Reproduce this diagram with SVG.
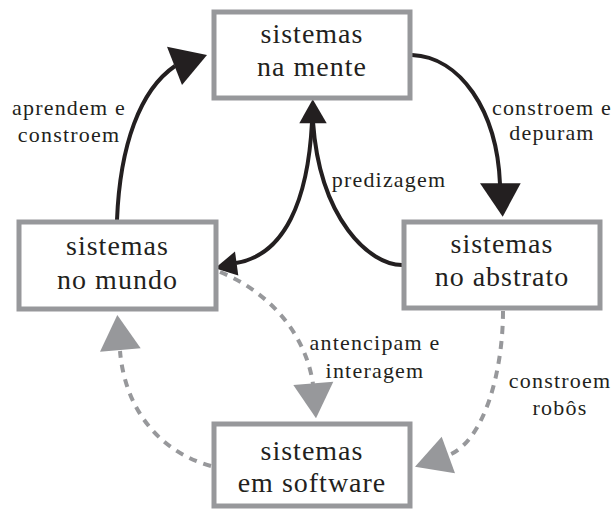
<svg xmlns="http://www.w3.org/2000/svg" width="612" height="510" viewBox="0 0 612 510" font-family="Liberation Serif, DejaVu Serif, serif">
  <style>
    .box { fill: #ffffff; stroke: #97989b; stroke-width: 5; }
    .node-text { font-size: 28px; letter-spacing: 1px; fill: #231f20; text-anchor: middle; }
    .label { font-size: 22px; letter-spacing: 1.2px; fill: #231f20; text-anchor: middle; }
    .solid { fill: none; stroke: #231f20; stroke-width: 4; }
    .dashed { fill: none; stroke: #97989b; stroke-width: 4; stroke-dasharray: 8 7; }
    .head-dark { fill: #231f20; }
    .head-gray { fill: #97989b; }
  </style>

  <g id="connectors">
    <!-- aprendem e constroem: mundo -> mente -->
    <path class="solid" d="M117,220 C120,145 140,90 175,66"/>
    <polygon class="head-dark" points="207,55 167,46.7 182,85"/>

    <!-- constroem e depuram: mente -> abstrato -->
    <path class="solid" d="M412,55 C460,57 497,110 500,184"/>
    <polygon class="head-dark" points="502.7,216.7 480,183.3 520.7,183.3"/>

    <!-- predizagem: abstrato -> mente -> mundo -->
    <path class="solid" d="M402,265 C370,265 320,220 313,122"/>
    <path class="solid" d="M312,122 C308,200 285,255 236,263"/>
    <polygon class="head-dark" points="312.7,99.3 299.3,123.3 326.7,123.3"/>
    <polygon class="head-dark" points="215,268.3 235,251.5 238.3,275.5"/>

    <!-- antencipam e interagem: mundo -> software -->
    <path class="dashed" d="M220,272 C265,290 305,330 313,384"/>
    <polygon class="head-gray" points="316,418.3 293.3,385 333.3,381.7"/>

    <!-- constroem robôs: abstrato -> software -->
    <path class="dashed" d="M503,311 C503,370 485,440 449,455"/>
    <polygon class="head-gray" points="415,466.7 441.7,436.7 455,473.3"/>

    <!-- software -> mundo -->
    <path class="dashed" d="M211,466 C160,452 125,410 120,351"/>
    <polygon class="head-gray" points="117.3,315 100,351.7 140.7,348.3"/>
  </g>

  <g id="labels">
    <text class="label" x="69" y="115">aprendem e</text>
    <text class="label" x="69" y="141.7">constroem</text>
    <text class="label" x="552" y="115">constroem e</text>
    <text class="label" x="552" y="140">depuram</text>
    <text class="label" x="389" y="186.7">predizagem</text>
    <text class="label" x="375" y="350">antencipam e</text>
    <text class="label" x="375" y="377.7">interagem</text>
    <text class="label" x="560" y="388.3">constroem</text>
    <text class="label" x="560" y="415">robôs</text>
  </g>

  <g id="node-mente">
    <rect class="box" x="214" y="12" width="196" height="86"/>
    <text class="node-text" x="312" y="42.7">sistemas</text>
    <text class="node-text" x="312" y="76">na mente</text>
  </g>

  <g id="node-mundo">
    <rect class="box" x="19" y="222" width="197" height="87"/>
    <text class="node-text" x="117.5" y="255">sistemas</text>
    <text class="node-text" x="117.5" y="289">no mundo</text>
  </g>

  <g id="node-abstrato">
    <rect class="box" x="404" y="222" width="196" height="86"/>
    <text class="node-text" x="502" y="253.3">sistemas</text>
    <text class="node-text" x="502" y="286">no abstrato</text>
  </g>

  <g id="node-software">
    <rect class="box" x="214" y="424" width="196" height="82"/>
    <text class="node-text" x="312" y="460">sistemas</text>
    <text class="node-text" x="312" y="491.7">em software</text>
  </g>
</svg>
